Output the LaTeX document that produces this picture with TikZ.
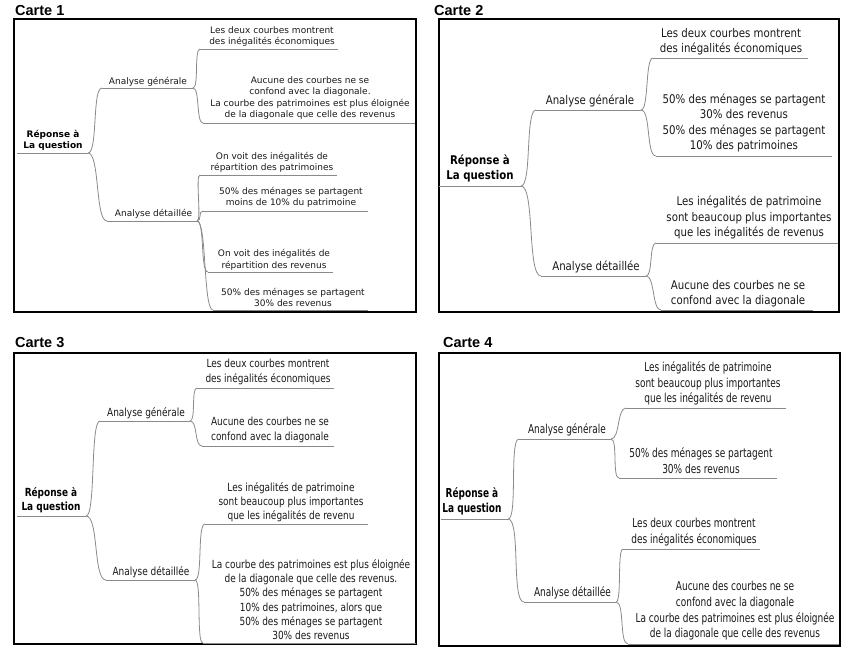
\documentclass[tikz,border=0pt]{standalone}
\usepackage{fontspec}
\setmainfont{DejaVu Sans}
\newfontfamily\fA{DejaVu Sans}
\newfontfamily\fB[FakeStretch=0.85]{DejaVu Sans}
\newfontfamily\fC[FakeStretch=0.8]{DejaVu Sans}
\newfontfamily\fD[FakeStretch=0.73]{DejaVu Sans}
\newfontfamily\ttlfont{Liberation Sans}
\definecolor{txtcol}{HTML}{1A1A1A}
\definecolor{linecol}{HTML}{8A8A8A}
\tikzset{
  txt/.style={inner sep=0pt, align=center, text=txtcol, font=\pfont},
  roottxt/.style={inner sep=0pt, align=center, text=black, font=\pfont\bfseries},
  link/.style={draw=linecol, line width=0.8pt},
  framebox/.style={draw=black, line width=1.1pt},
  ttl/.style={anchor=base west, inner sep=0pt, font=\ttlfont\bfseries\fontsize{14.5}{16}\selectfont},
}
\newcommand\mmtopic[8][txt]{%
  \coordinate (#2-s) at (#3,#5);
  \coordinate (#2-e) at (#4,#5);
  \node[#1] (#2) at (#6,#7) {#8};
  \draw[link] (#2-s) -- (#2-e);
}
\newcommand\mmconn[3]{\draw[link] (#1-e) to[out=0,in=180,distance=#3pt] (#2-s);}
\begin{document}
\begin{tikzpicture}[x=1pt,y=-1pt]
\useasboundingbox[fill=white] (0,0) rectangle (852,649);

% ---------- Carte 1 ----------
\begin{scope}
\def\pfont{\fA\fontsize{9}{11.5}\selectfont}
\node[ttl] (t1) at (15,15) {Carte 1};
\draw[framebox] (14,19) rectangle (416,312);
\mmtopic[roottxt]{r1}{17}{88}{153}{53}{140.5}{Réponse à\\La question}
\mmtopic{ag1}{102}{193}{88}{148}{82}{Analyse générale}
\mmtopic{ad1}{107}{197}{221}{153.5}{214}{Analyse détaillée}
\mmtopic{l11}{200}{338}{49}{272}{36.5}{Les deux courbes montrent\\des inégalités économiques}
\mmtopic{l12}{203}{415}{123}{310}{98}{Aucune des courbes ne se\\confond avec la diagonale.\\La courbe des patrimoines est plus éloignée\\de la diagonale que celle des revenus}
\mmtopic{l13}{200}{337}{175}{272}{162.5}{On voit des inégalités de\\répartition des patrimoines}
\mmtopic{l14}{203}{368}{211}{291}{197.5}{50\% des ménages se partagent\\moins de 10\% du patrimoine}
\mmtopic{l15}{208}{333}{272}{274}{260}{On voit des inégalités de\\répartition des revenus}
\mmtopic{l16}{213}{368}{310}{293}{297.5}{50\% des ménages se partagent\\30\% des revenus}
\mmconn{r1}{ag1}{10}
\mmconn{r1}{ad1}{12}
\mmconn{ag1}{l11}{6}
\mmconn{ag1}{l12}{7}
\mmconn{ad1}{l13}{5}
\mmconn{ad1}{l14}{5}
\mmconn{ad1}{l15}{8}
\mmconn{ad1}{l16}{10}
\end{scope}

% ---------- Carte 2 ----------
\begin{scope}
\def\pfont{\fB\fontsize{12}{15.3}\selectfont}
\node[ttl] (t2) at (434,15) {Carte 2};
\draw[framebox] (439,19) rectangle (839,312);
\mmtopic[roottxt]{r2}{439}{521}{186}{480}{168.5}{Réponse à\\La question}
\mmtopic{ag2}{536}{641}{110}{590}{101}{Analyse générale}
\mmtopic{ad2}{541}{646}{276}{596}{267}{Analyse détaillée}
\mmtopic{l21}{653}{808}{58}{731}{41.5}{Les deux courbes montrent\\des inégalités économiques}
\mmtopic{l22}{656}{832}{156}{744}{123}{50\% des ménages se partagent\\30\% des revenus\\50\% des ménages se partagent\\10\% des patrimoines}
\mmtopic{l23}{656}{838}{243}{749}{217.5}{Les inégalités de patrimoine\\sont beaucoup plus importantes\\que les inégalités de revenus}
\mmtopic{l24}{661}{813}{310}{738}{293.5}{Aucune des courbes ne se\\confond avec la diagonale}
\mmconn{r2}{ag2}{11}
\mmconn{r2}{ad2}{14}
\mmconn{ag2}{l21}{8}
\mmconn{ag2}{l22}{10}
\mmconn{ad2}{l23}{7}
\mmconn{ad2}{l24}{9}
\end{scope}

% ---------- Carte 3 ----------
\begin{scope}
\def\pfont{\fC\fontsize{11.2}{14.3}\selectfont}
\node[ttl] (t3) at (15,347) {Carte 3};
\draw[framebox] (14,353) rectangle (416,644);
\mmtopic[roottxt]{r3}{17}{86}{516}{51}{500}{Réponse à\\La question}
\mmtopic{ag3}{100}{190}{421}{146}{413}{Analyse générale}
\mmtopic{ad3}{106}{195}{580}{151}{572}{Analyse détaillée}
\mmtopic{l31}{197}{334}{388}{268}{372}{Les deux courbes montrent\\des inégalités économiques}
\mmtopic{l32}{202}{334}{446}{270}{430}{Aucune des courbes ne se\\confond avec la diagonale}
\mmtopic{l33}{205}{368}{524}{291}{502}{Les inégalités de patrimoine\\sont beaucoup plus importantes\\que les inégalités de revenu}
\mmtopic{l34}{203}{416}{643}{311}{599.5}{La courbe des patrimoines est plus éloignée\\de la diagonale que celle des revenus.\\50\% des ménages se partagent\\10\% des patrimoines, alors que\\50\% des ménages se partagent\\30\% des revenus}
\mmconn{r3}{ag3}{10}
\mmconn{r3}{ad3}{13}
\mmconn{ag3}{l31}{6}
\mmconn{ag3}{l32}{8}
\mmconn{ad3}{l33}{8}
\mmconn{ad3}{l34}{7}
\end{scope}

% ---------- Carte 4 ----------
\begin{scope}
\def\pfont{\fD\fontsize{12.3}{15.7}\selectfont}
\node[ttl] (t4) at (443,347) {Carte 4};
\draw[framebox] (439,353) rectangle (840,646);
\mmtopic[roottxt]{r4}{441}{508}{519}{472}{501.5}{Réponse à\\La question}
\mmtopic{ag4}{519}{611}{439}{567}{430}{Analyse générale}
\mmtopic{ad4}{524}{616}{602}{572.5}{593}{Analyse détaillée}
\mmtopic{l41}{626}{786}{408}{708}{383.5}{Les inégalités de patrimoine\\sont beaucoup plus importantes\\que les inégalités de revenu}
\mmtopic{l42}{619}{777}{478}{701}{460.5}{50\% des ménages se partagent\\30\% des revenus}
\mmtopic{l43}{623}{760}{549}{694}{532}{Les deux courbes montrent\\des inégalités économiques}
\mmtopic{l44}{628}{839}{644}{735}{611}{Aucune des courbes ne se\\confond avec la diagonale\\La courbe des patrimoines est plus éloignée\\de la diagonale que celle des revenus}
\mmconn{r4}{ag4}{10}
\mmconn{r4}{ad4}{13}
\mmconn{ag4}{l41}{9}
\mmconn{ag4}{l42}{7}
\mmconn{ad4}{l43}{6}
\mmconn{ad4}{l44}{9}
\end{scope}
\end{tikzpicture}
\end{document}
